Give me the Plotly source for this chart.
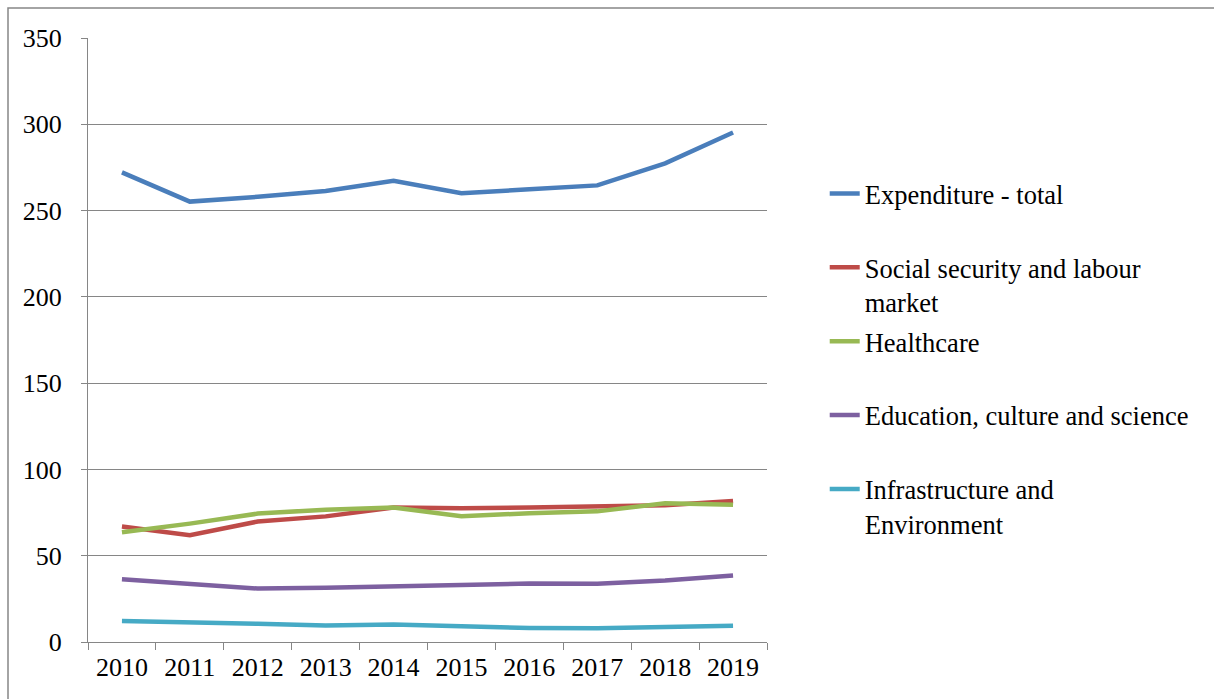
import plotly.graph_objects as go

# Public expenditure by function, 2010-2019
years = ["2010", "2011", "2012", "2013", "2014", "2015", "2016", "2017", "2018", "2019"]

expenditure_total = [272.1, 255.2, 258.0, 261.3, 267.3, 260.0, 262.3, 264.6, 277.4, 295.2]
social_security = [66.9, 61.9, 69.8, 72.8, 77.9, 77.5, 78.0, 78.4, 79.2, 81.7]
healthcare = [63.6, 68.6, 74.4, 76.7, 77.9, 72.9, 74.6, 75.7, 80.4, 79.6]
education = [36.3, 33.5, 31.0, 31.4, 32.1, 32.9, 33.9, 33.7, 35.6, 38.5]
infrastructure = [12.1, 11.5, 10.6, 9.6, 10.2, 9.1, 8.1, 7.9, 8.5, 9.4]

series_names = [
    "Expenditure - total<br> ",
    "Social security and labour<br>market",
    "Healthcare<br> ",
    "Education, culture and science<br> ",
    "Infrastructure and<br>Environment",
]
series_values = [expenditure_total, social_security, healthcare, education, infrastructure]
series_colors = ["#4A7EBB", "#BE4B48", "#98B954", "#7D60A0", "#46AAC5"]

FONT = "Liberation Serif, Tinos, DejaVu Serif, serif"
GRID = "#868686"

fig = go.Figure()
for i, (name, vals, color) in enumerate(zip(series_names, series_values, series_colors)):
    fig.add_trace(go.Scatter(
        x=years, y=vals, name=name, mode="lines",
        line=dict(color=color, width=4.5),
        legendgroup=f"g{i}",
    ))

fig.update_layout(
    width=1214, height=699,
    margin=dict(l=88, r=447, t=38, b=57),
    paper_bgcolor="white", plot_bgcolor="white",
    font=dict(family=FONT, size=26, color="black"),
    showlegend=True,
    legend=dict(
        x=1.085, xanchor="left", xref="paper",
        y=0.782, yanchor="top",
        font=dict(family=FONT, size=26.5, color="black"),
        valign="top", tracegroupgap=2,
        bgcolor="rgba(0,0,0,0)", itemwidth=30,
    ),
    xaxis=dict(
        type="category", range=[-0.5, 9.5],
        showgrid=False, showline=True, linecolor=GRID, linewidth=1.3,
        ticks="outside", tickson="boundaries", ticklen=7, tickcolor=GRID, tickwidth=1.3,
        tickfont=dict(family=FONT, size=26, color="black"),
        ticklabelstandoff=2,
        fixedrange=True,
    ),
    yaxis=dict(
        range=[0, 350], dtick=50, tick0=0,
        showgrid=True, gridcolor=GRID, gridwidth=1.3,
        showline=True, linecolor=GRID, linewidth=1.3,
        ticks="outside", ticklen=6, tickcolor=GRID, tickwidth=1.3,
        tickfont=dict(family=FONT, size=26, color="black"),
        ticklabelstandoff=14,
        zeroline=False, fixedrange=True,
    ),
)

# Outer chart frame (top and left edges visible)
fig.add_shape(
    type="rect", xref="paper", yref="paper",
    x0=(8 - 88) / 679, x1=(1320 - 88) / 679,
    y0=(642 - 760) / 604, y1=(642 - 8) / 604,
    line=dict(color=GRID, width=1.5), fillcolor="rgba(0,0,0,0)", layer="below",
)

fig.write_html("out.html")
